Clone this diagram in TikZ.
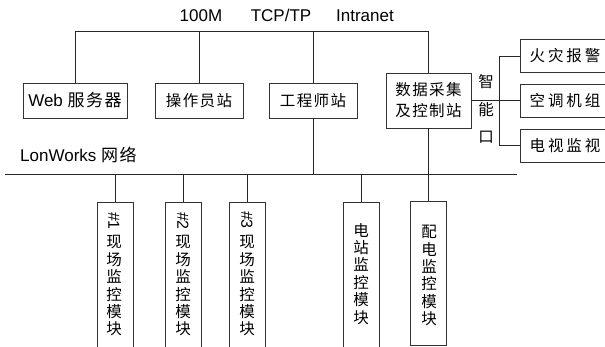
\documentclass[tikz,border=0pt]{standalone}
\usepackage{fontspec}
\setmainfont{Liberation Sans}
\newfontfamily\cjk[LetterSpace=9]{Noto Sans CJK SC}
\newfontfamily\cjkw[LetterSpace=19]{Noto Sans CJK SC}
\newfontfamily\cjkv{Noto Sans CJK SC}
\tikzset{
  ln/.style={line width=0.75pt, draw=black!85},
  box/.style={rectangle, draw=black!80, line width=0.75pt, inner sep=0pt},
  hbox/.style={box, minimum height=35pt, font=\fontsize{17}{21}\selectfont},
  rbox/.style={box, minimum width=90pt, minimum height=33pt, font=\cjkw\fontsize{15.5}{21}\selectfont},
  vbox/.style={box, anchor=north, minimum width=36pt, minimum height=150pt},
  vstack/.style={inner sep=0pt, anchor=north, align=center, font=\cjkv\fontsize{15.5}{17.4}\selectfont},
  lat/.style={inner sep=0pt, font=\fontsize{17}{20}\selectfont},
  numlab/.style={inner sep=0pt, rotate=-90, font=\fontsize{16}{18}\selectfont},
}
\begin{document}
\begin{tikzpicture}[x=1pt,y=-1pt]
\useasboundingbox (0,0) rectangle (605,347);
\clip (0,0) rectangle (605,347);
% top label
\node[lat, anchor=base] (l100) at (201,22) {100M};
\node[lat, anchor=base] (ltcp) at (281,22) {TCP/TP};
\node[lat, anchor=base] (lint) at (365,22) {Intranet};
% upper boxes
\node[hbox, minimum width=104pt] (web) at (75,100.5) {Web {\cjk 服务器}};
\node[hbox, minimum width=88pt, font=\cjk\fontsize{15.5}{21}\selectfont] (op) at (199,100.5) {操作员站};
\node[hbox, minimum width=88pt, font=\cjk\fontsize{15.5}{21}\selectfont] (eng) at (313,100.5) {工程师站};
\node[box, minimum width=85pt, minimum height=55pt, align=center, font=\cjk\fontsize{15.5}{21}\selectfont] (daq) at (428.5,100.5) {数据采集\\及控制站};
% right boxes
\node[rbox] (fire) at (565,56) {火灾报警};
\node[rbox] (air) at (565,100.5) {空调机组};
\node[rbox] (tv) at (565,145.5) {电视监视};
\node[vstack, font=\cjkv\fontsize{15.5}{27.5}\selectfont] (port) at (486,74.5) {智\\能\\口};
% top bus
\coordinate (tl) at (75,31);
\draw[ln] (web.north) -- (web.north |- tl) -- (daq.north |- tl) -- (daq.north);
\draw[ln] (op.north) -- (op.north |- tl);
\draw[ln] (eng.north) -- (eng.north |- tl);
% intelligent port connections
\coordinate (br) at (499,100.5);
\draw[ln] (daq.east) -- (air.west);
\draw[ln] (fire.west) -- (fire.west -| br) -- (tv.west -| br) -- (tv.west);
% LonWorks bus
\node[lat, anchor=base west] (lw) at (20,162) {LonWorks {\cjk 网络}};
\coordinate (lwl) at (5,174);
\coordinate (lwr) at (517,174);
\draw[ln] (lwl) -- (lwr);
\draw[ln] (eng.south) -- (eng.south |- lwl);
% bottom modules
\node[vbox] (m1) at (115,202) {};
\node[vbox] (m2) at (183,202) {};
\node[vbox] (m3) at (247.5,202) {};
\node[vbox] (m4) at (361,202) {};
\node[vbox, minimum height=143pt] (m5) at (428.5,201.5) {};
\draw[ln] (m1.north) -- (m1.north |- lwl);
\draw[ln] (m2.north) -- (m2.north |- lwl);
\draw[ln] (m3.north) -- (m3.north |- lwl);
\draw[ln] (m4.north) -- (m4.north |- lwl);
\draw[ln] (daq.south) -- (m5.north);
% module texts
\node[numlab] (n1) at (114,221) {\#1};
\node[numlab] (n2) at (183,221) {\#2};
\node[numlab] (n3) at (247,220) {\#3};
\node[vstack] (t1) at (114,235.5) {现\\场\\监\\控\\模\\块};
\node[vstack] (t2) at (183,235.5) {现\\场\\监\\控\\模\\块};
\node[vstack] (t3) at (247,235.5) {现\\场\\监\\控\\模\\块};
\node[vstack] (t4) at (361,223) {电\\站\\监\\控\\模\\块};
\node[vstack] (t5) at (429,225) {配\\电\\监\\控\\模\\块};
\end{tikzpicture}
\end{document}
